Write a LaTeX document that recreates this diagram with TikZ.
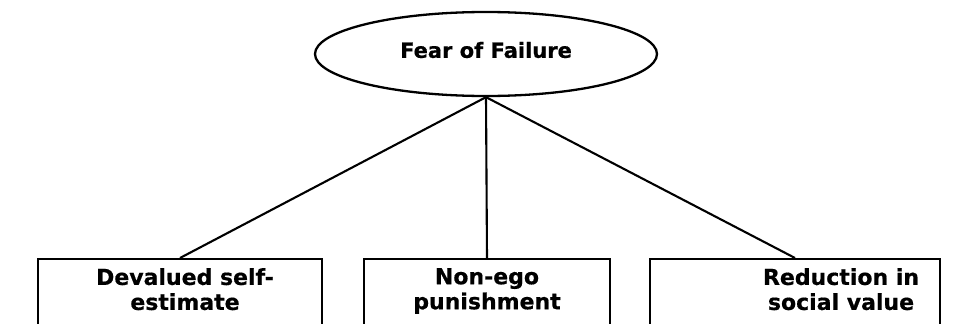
\documentclass[tikz,border=0pt]{standalone}
\usepackage{fontspec}
\setmainfont{DejaVu Sans}
\newfontfamily\heavy[FakeBold=0.6]{DejaVu Sans Bold}
\usetikzlibrary{shapes.geometric}
\begin{document}
\begin{tikzpicture}[x=1pt,y=-1pt,
  conn/.style={line width=2.1pt,black},
  boxstyle/.style={draw,line width=1.8pt,rectangle,anchor=north,inner sep=0pt},
  lab/.style={anchor=north,align=center,font=\fontsize{22}{25}\selectfont\heavy,inner sep=0pt}]
\useasboundingbox (0,0) rectangle (972,324);
\clip (0,0) rectangle (972,324);
\node[draw,ellipse,line width=2.3pt,minimum width=342pt,minimum height=84pt,inner sep=0pt] (fear) at (486,54) {};
\node[font=\fontsize{21}{24}\selectfont\heavy] (ft) at (486,50) {Fear of Failure};
\node[boxstyle,minimum width=284pt,minimum height=120pt] (b1) at (180,258) {};
\node[boxstyle,minimum width=246pt,minimum height=120pt] (b2) at (487,258) {};
\node[boxstyle,minimum width=290pt,minimum height=120pt] (b3) at (795,258) {};
\node[lab] (t1) at (185,268) {Devalued self-\\estimate};
\node[lab] (t2) at (487,268) {Non-ego\\punishment};
\node[lab] (t3) at (841,268) {Reduction in\\social value};
\draw[conn] (fear.south) -- (b1.north);
\draw[conn] (fear.south) -- (b2.north);
\draw[conn] (fear.south) -- (b3.north);
\end{tikzpicture}
\end{document}
